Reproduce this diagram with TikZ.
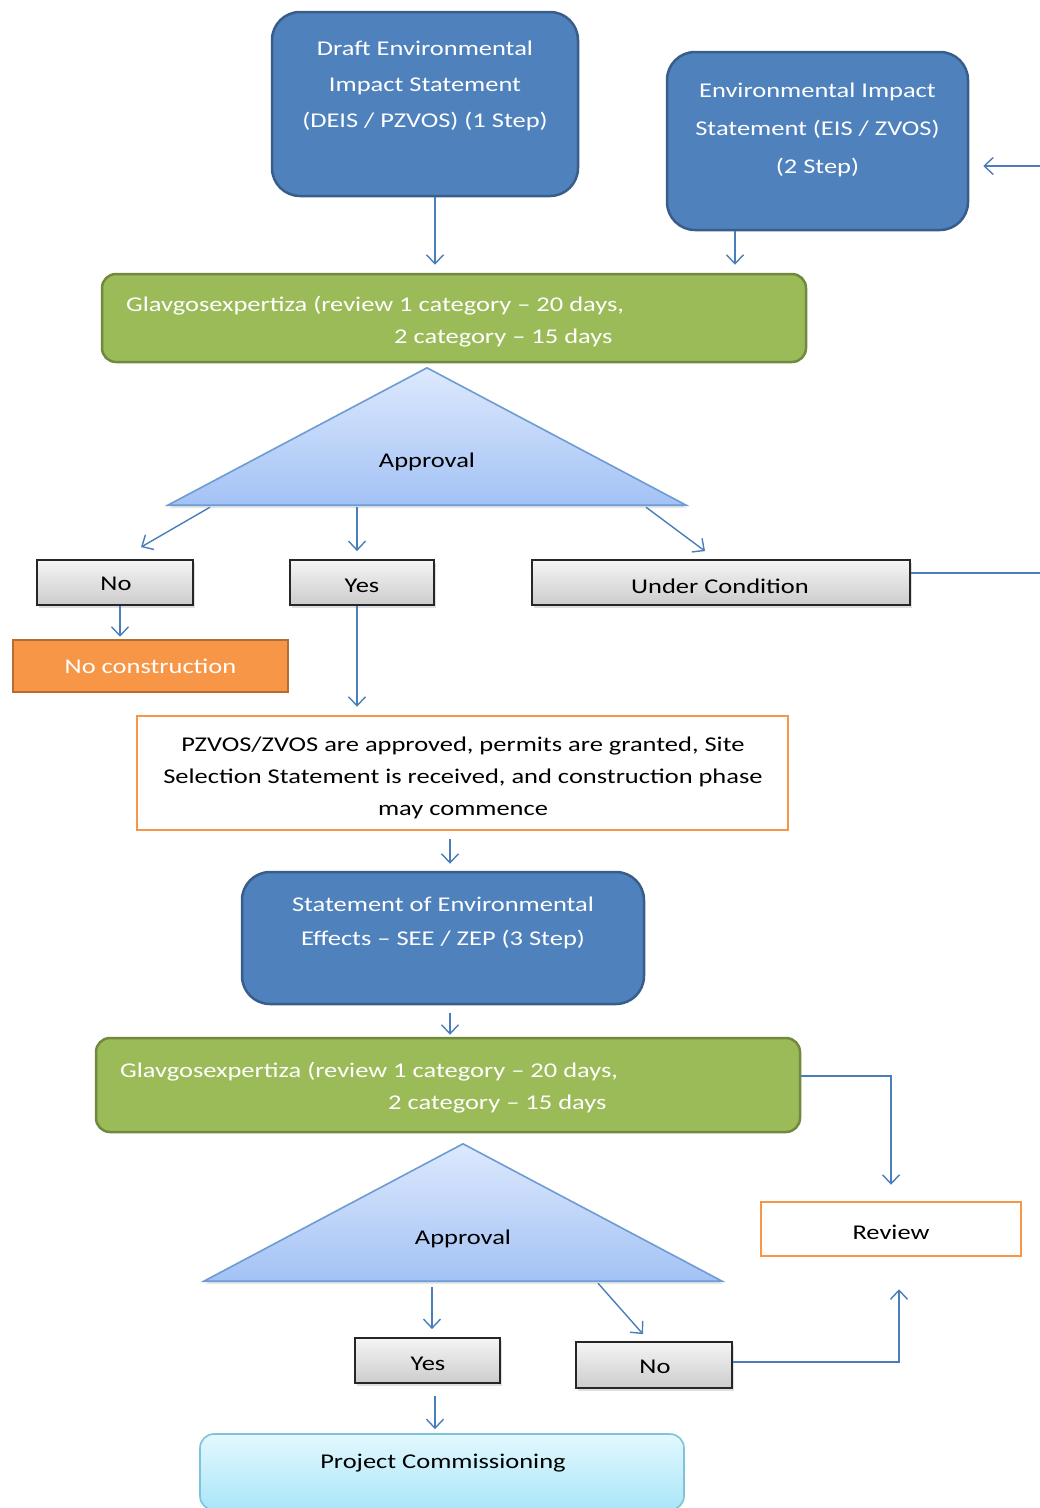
\documentclass[tikz,border=0pt]{standalone}
\usepackage{fontspec}
\setmainfont{Carlito}[FakeStretch=1.26]
\usetikzlibrary{arrows.meta,shadows}
\definecolor{bfill}{HTML}{4F81BD}
\definecolor{bline}{HTML}{385D8A}
\definecolor{gfill}{HTML}{9BBB59}
\definecolor{gline}{HTML}{71893F}
\definecolor{ofill}{HTML}{F79646}
\definecolor{oline}{HTML}{B66D31}
\definecolor{conn}{HTML}{4A7EBB}
\definecolor{trtop}{HTML}{DDE9FD}
\definecolor{trbot}{HTML}{A3C2F5}
\definecolor{trline}{HTML}{6D9BD3}
\definecolor{cytop}{HTML}{E3F8FE}
\definecolor{cybot}{HTML}{A9E6F8}
\definecolor{cyline}{HTML}{7EC3DA}
\begin{document}
\begin{tikzpicture}[x=1pt,y=-1pt,
  txt/.style={font=\fontsize{21}{36}\selectfont, inner sep=0pt, align=center},
  bluebox/.style={draw=bline, line width=2.5pt, fill=bfill, rounded corners=28pt, inner sep=0pt},
  greenbox/.style={draw=gline, line width=2.5pt, fill=gfill, rounded corners=14pt, inner sep=0pt},
  greybox/.style={draw=black!85, line width=1.8pt, top color=gray!8, bottom color=gray!40, inner sep=0pt,
     drop shadow={opacity=0.25, shadow xshift=2pt, shadow yshift=-3pt}},
  outbox/.style={draw=ofill, line width=2.5pt, fill=white, inner sep=0pt},
  frame/.style={inner sep=0pt, draw=none},
  arr/.style={draw=conn, line width=1.4pt, -{Straight Barb[length=9pt,width=17pt]}},
  ln/.style={draw=conn, line width=1.4pt},
  tri/.style={draw=trline, line width=1.6pt, top color=trtop, bottom color=trbot,
     drop shadow={opacity=0.2, shadow xshift=1pt, shadow yshift=-3pt}}
]
\useasboundingbox (0,0) rectangle (1040,1508);

% top boxes
\node[bluebox, minimum width=306pt, minimum height=184pt] (box1) at (425,104) {};
\node[txt, text=white] (t1) at (425,86) {Draft Environmental\\Impact Statement\\(DEIS / PZVOS) (1 Step)};
\node[bluebox, minimum width=301pt, minimum height=178pt] (box2) at (817.5,141) {};
\node[txt, text=white, font=\fontsize{21}{38}\selectfont] (t2) at (817.5,130) {Environmental Impact\\Statement (EIS / ZVOS)\\(2 Step)};
\coordinate (eIn) at (1040,166);

% first review
\node[greenbox, minimum width=704pt, minimum height=88pt] (green1) at (454,318) {};
\node[txt, text=white, anchor=west] (g1a) at (126,306) {Glavgosexpertiza (review 1 category -- 20 days,};
\node[txt, text=white, anchor=west] (g1b) at (394,338) {2 category -- 15 days};

% approval 1
\node[frame, minimum width=518pt, minimum height=137pt] (tri1) at (427,436.5) {};
\path[tri] (tri1.south west) -- (tri1.north) -- (tri1.south east) -- cycle;
\node[txt] (ta1) at (427,462) {Approval};

\node[greybox, minimum width=156pt, minimum height=45pt] (gno) at (115,582.5) {};
\node[txt] (tno) at (116,584) {No};
\node[greybox, minimum width=144pt, minimum height=45pt] (gyes) at (362,582.5) {};
\node[txt] (tyes) at (362,586) {Yes};
\node[greybox, minimum width=378pt, minimum height=45pt] (gunder) at (721,582.5) {};
\node[txt] (tunder) at (720,586) {Under Condition};
\coordinate (eOut) at (1040,573);

\node[draw=oline, line width=2.5pt, fill=ofill, minimum width=275pt, minimum height=52pt, inner sep=0pt, text=white, font=\fontsize{21}{36}\selectfont] (nocons) at (150.5,666) {No construction};

\node[outbox, minimum width=651pt, minimum height=114pt] (big) at (462.5,773) {};
\node[txt, font=\fontsize{21}{32}\selectfont] (tbig) at (463,778) {PZVOS/ZVOS are approved, permits are granted, Site\\Selection Statement is received, and construction phase\\may commence};

\node[bluebox, minimum width=402pt, minimum height=132pt] (box3) at (443,938) {};
\node[txt, text=white, font=\fontsize{21}{34}\selectfont] (t3) at (443,923) {Statement of Environmental\\Effects -- SEE / ZEP (3 Step)};

\node[greenbox, minimum width=704pt, minimum height=94pt] (green2) at (448,1085) {};
\node[txt, text=white, anchor=west] (g2a) at (120,1072) {Glavgosexpertiza (review 1 category -- 20 days,};
\node[txt, text=white, anchor=west] (g2b) at (388,1104) {2 category -- 15 days};

\node[outbox, minimum width=260pt, minimum height=54pt] (review) at (891,1229) {};
\node[txt] (trev) at (891,1232) {Review};

\node[frame, minimum width=518pt, minimum height=137pt] (tri2) at (463,1212.5) {};
\path[tri] (tri2.south west) -- (tri2.north) -- (tri2.south east) -- cycle;
\node[txt] (ta2) at (463,1239) {Approval};

\node[greybox, minimum width=145pt, minimum height=45pt] (yes2) at (427.5,1360.5) {};
\node[txt] (tyes2) at (428,1364) {Yes};
\node[greybox, minimum width=156pt, minimum height=46pt] (no2) at (654,1365) {};
\node[txt] (tno2) at (655,1367) {No};

\node[draw=cyline, line width=1.6pt, top color=cytop, bottom color=cybot, rounded corners=14pt, minimum width=484pt, minimum height=76pt, inner sep=0pt] (proj) at (442,1472) {};
\node[txt] (tproj) at (443,1463) {Project Commissioning};

% connectors
\draw[arr, shorten >=8pt] ([xshift=10pt]box1.south) -- ([xshift=-19pt]green1.north);
\draw[arr, shorten >=8pt] ([xshift=-82.5pt]box2.south) -- ([xshift=281pt]green1.north);
\draw[arr, shorten >=14pt] (eIn) -- ([yshift=-25pt]box2.east);

\draw[arr] ([xshift=-217pt,yshift=-2pt]tri1.south) -- ([xshift=26pt,yshift=12pt]gno.north);
\draw[arr, shorten >=8pt] ([xshift=-70pt,yshift=-2pt]tri1.south) -- ([xshift=-5pt]gyes.north);
\draw[arr] ([xshift=219pt,yshift=-2pt]tri1.south) -- ([xshift=-16pt,yshift=8pt]gunder.north);
\draw[ln] ([yshift=9.5pt]gunder.east) -- (eOut);

\draw[arr, shorten >=2pt] ([xshift=5pt]gno.south) -- ([xshift=-30.5pt]nocons.north);
\draw[arr, shorten >=8pt] ([xshift=-5pt]gyes.south) -- ([xshift=-105.5pt]big.north);
\draw[arr, shorten >=7pt] ([xshift=-12.5pt,yshift=-8pt]big.south) -- ([xshift=7pt]box3.north);
\draw[arr, shorten >=2pt] ([xshift=7pt,yshift=-8pt]box3.south) -- ([xshift=2pt]green2.north);
\draw[arr, shorten >=16pt] ([yshift=9pt]green2.east) -| (review.north);

\draw[arr, shorten >=8pt] ([xshift=-31pt,yshift=-6pt]tri2.south) -- ([xshift=4.5pt]yes2.north);
\draw[arr] ([xshift=135pt,yshift=-2pt]tri2.south) -- ([xshift=-11pt,yshift=7pt]no2.north);
\draw[arr] ([yshift=3pt]no2.east) -| ([xshift=8pt,yshift=-32pt]review.south);
\draw[arr, shorten >=4pt] ([xshift=7.5pt,yshift=-12pt]yes2.south) -- ([xshift=-7pt]proj.north);
\end{tikzpicture}
\end{document}
